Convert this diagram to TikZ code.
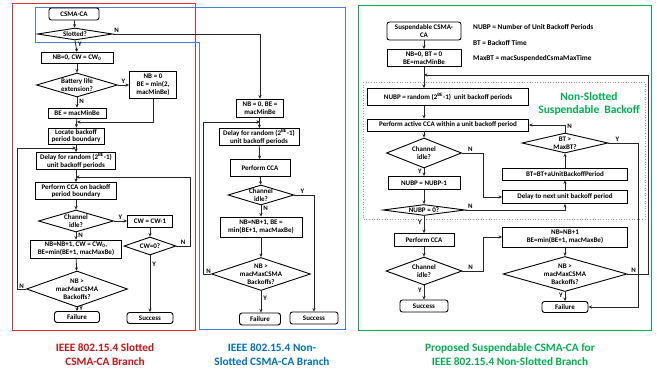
\documentclass[tikz,border=0pt]{standalone}
\usepackage{fontspec}
\setmainfont{Carlito}
\usetikzlibrary{shapes.geometric,arrows.meta}
\definecolor{redbr}{RGB}{222,48,48}
\definecolor{bluebr}{RGB}{80,125,205}
\definecolor{greenbr}{RGB}{0,176,80}
\definecolor{redtxt}{RGB}{200,20,20}
\definecolor{bluetxt}{RGB}{0,112,192}
\begin{document}
\begin{tikzpicture}[x=1pt,y=-1pt,
  every node/.style={font=\fontsize{7}{7.8}\selectfont\bfseries, inner sep=0pt},
  box/.style={draw, line width=0.9pt, align=center, fill=white},
  rbox/.style={box, rounded corners=2.5pt},
  dia/.style={draw, line width=0.9pt, diamond, inner sep=0pt, fill=white},
  conn/.style={line width=0.8pt, draw=black!85},
  arr/.style={conn, -{Stealth[length=3.5pt,width=3.2pt]}},
  yn/.style={font=\fontsize{6.8}{7}\selectfont\bfseries},
  captext/.style={font=\fontsize{11.3}{14}\selectfont\bfseries, align=center},
  leg/.style={anchor=west, font=\fontsize{7.3}{8}\selectfont\bfseries}]
\useasboundingbox (0,0) rectangle (657,372);
% outlines
\draw[redbr, line width=1pt] (12,3) rectangle (195,330);
\draw[bluebr, line width=1pt] (35,7) -- (345,7) -- (345,329) -- (199,329) -- (199,42) -- (35,42) -- cycle;
\draw[greenbr, line width=1pt] (358,5) rectangle (651,330);
\draw[black!40, dotted, line width=0.6pt] (363,82) rectangle (645,219);

% ---------- red branch ----------
\node[rbox, minimum width=50, minimum height=12] (csma) at (74,14) {CSMA-CA};
\node[dia, minimum width=75, minimum height=12, label={center:Slotted?}] (slotted) at (75,34) {};
\node[box, minimum width=72, minimum height=11] (nb0) at (77,58) {NB=0, CW = CW\textsubscript{0}};
\node[dia, minimum width=81, minimum height=24, label={[align=center]center:Battery life\\extension?}] (batt) at (77,85) {};
\node[box, minimum width=47, minimum height=27] (nbbe) at (153,85) {NB = 0\\BE = min(2,\\macMinBe)};
\node[box, minimum width=58, minimum height=10] (bemin) at (77,113) {BE = macMinBe};
\node[box, minimum width=56, minimum height=16] (locate) at (76,136) {Locate backoff\\period boundary};
\node[box, minimum width=79, minimum height=17] (delay1) at (76,161) {Delay for random (2\textsuperscript{BE}-1)\\unit backoff periods};
\node[box, minimum width=81, minimum height=17] (cca1) at (76,191) {Perform CCA on backoff\\period boundary};
\node[dia, minimum width=75, minimum height=22, label={[align=center]center:Channel\\idle?}] (idle1) at (76,221) {};
\node[box, minimum width=45, minimum height=12] (cw1) at (150,221) {CW = CW-1};
\node[box, minimum width=91, minimum height=18] (nbnb1) at (76,249) {NB=NB+1, CW = CW\textsubscript{0},\\BE=min(BE+1, macMaxBe)};
\node[dia, minimum width=52, minimum height=18, label={center:CW=0?}] (cw0) at (150,246) {};
\node[dia, minimum width=101, minimum height=36, label={[align=center]center:NB >\\macMaxCSMA\\Backoffs?}] (nbmax1) at (77,289) {};
\node[rbox, minimum width=45, minimum height=11] (fail1) at (77,317) {Failure};
\node[rbox, minimum width=46, minimum height=11] (succ1) at (150,318) {Success};

\coordinate (j1) at (77,122);
\coordinate (j2) at (76,148);
\coordinate (j3) at (76,177);
\draw[arr] (csma) -- (slotted);
\draw[arr] (slotted.south) -- node[yn, right=2pt, pos=0.35] {Y} (nb0.north);
\draw[arr] (nb0) -- (batt);
\draw[arr] (batt.east) -- node[yn, above=1.5pt] {Y} (nbbe.west);
\draw[arr] (batt.south) -- node[yn, right=2pt, pos=0.4] {N} (bemin.north);
\draw[arr] (nbbe.south) |- (j1);
\draw[arr] (bemin) -- (locate);
\draw[arr] (locate) -- (delay1);
\draw[arr] (nbmax1.west) -- node[yn, above, pos=0.5] {N} (17,289) |- (j2);
\draw[arr] (delay1) -- (cca1);
\draw[arr] (cca1) -- (idle1);
\draw[arr] (idle1.east) -- node[yn, above=1.5pt] {Y} (cw1.west);
\draw[arr] (idle1.south) -- node[yn, right=2pt, pos=0.4] {N} (nbnb1.north);
\draw[arr] (cw1) -- (cw0);
\draw[arr] (cw0.east) -- node[yn, above=1pt] {N} (190,246) |- (j3);
\draw[arr] (cw0.south) -- node[yn, right=2pt, pos=0.15] {Y} (succ1.north);
\draw[arr] (nbnb1) -- (nbmax1);
\draw[arr] (nbmax1.south) -- node[yn, right=2pt, pos=0.35] {Y} (fail1.north);

% ---------- blue branch ----------
\node[box, minimum width=47, minimum height=18] (nbbe2) at (260,108) {NB = 0, BE =\\macMinBe};
\node[box, minimum width=80, minimum height=17] (delay2) at (259,137) {Delay for random (2\textsuperscript{BE}-1)\\unit backoff periods};
\node[box, minimum width=60, minimum height=17] (cca2) at (260,168) {Perform CCA};
\node[dia, minimum width=66, minimum height=20, label={[align=center]center:Channel\\idle?}] (idle2) at (261,195) {};
\node[box, minimum width=82, minimum height=20] (nbnb2) at (261,227) {NB=NB+1, BE =\\min(BE+1, macMaxBe)};
\node[dia, minimum width=99, minimum height=33, label={[align=center]center:NB >\\macMaxCSMA\\Backoffs?}] (nbmax2) at (261,274) {};
\node[rbox, minimum width=41, minimum height=12] (fail2) at (260,319) {Failure};
\node[rbox, minimum width=48, minimum height=12] (succ2) at (314,318) {Success};

\coordinate (j4) at (260,122);
\draw[arr] (slotted.east) -- node[yn, anchor=south west, pos=0, xshift=1pt, yshift=1pt] {N} (260,34) -- (nbbe2.north);
\draw[arr] (nbbe2) -- (delay2);
\draw[arr] (delay2) -- (cca2);
\draw[arr] (cca2) -- (idle2);
\draw[arr] (idle2.south) -- node[yn, right=2pt, pos=0.3] {N} (nbnb2.north);
\draw[arr] (idle2.east) -- node[yn, above=1pt, pos=0.4] {Y} (314,195) -- (succ2.north);
\draw[arr] (nbnb2) -- (nbmax2);
\draw[arr] (nbmax2.south) -- node[yn, right=2pt, pos=0.35] {Y} (fail2.north -| nbmax2);
\draw[arr] (nbmax2.west) -- node[yn, above, pos=0.3] {N} (203,274) |- (j4);

% ---------- green branch ----------
\node[rbox, minimum width=74, minimum height=18] (susp) at (424,31) {Suspendable CSMA-\\CA};
\node[box, minimum width=74, minimum height=17] (nbbt) at (424,58) {NB=0, BT = 0\\BE=macMinBe};
\node[leg] (l1) at (473,27) {NUBP = Number of Unit Backoff Periods};
\node[leg] (l2) at (473,43) {BT = Backoff Time};
\node[leg] (l3) at (473,59) {MaxBT = macSuspendedCsmaMaxTime};
\node[box, minimum width=161, minimum height=17] (nubp) at (448,97) {NUBP = random (2\textsuperscript{BE}-1)\ \ unit backoff periods};
\node[font=\fontsize{11.5}{13}\selectfont\bfseries, text=greenbr, align=center] (nsb) at (589,103.5) {Non-Slotted\\Suspendable\ \ Backoff};
\node[box, minimum width=161, minimum height=12] (active) at (448,125) {Perform active CCA within a unit backoff period};
\node[dia, minimum width=75, minimum height=30, label={[align=center]center:Channel\\idle?}] (idle3) at (424,153) {};
\node[box, minimum width=72, minimum height=13] (nubp1) at (424,183) {NUBP = NUBP-1};
\node[dia, minimum width=82, minimum height=11, label={center:NUBP = 0?}] (nubp0) at (424,210) {};
\node[dia, minimum width=86, minimum height=20, label={[align=center]center:BT >\\MaxBT?}] (btmax) at (565,143) {};
\node[box, minimum width=125, minimum height=12] (btbt) at (565,174) {BT=BT+aUnitBackoffPeriod};
\node[box, minimum width=125, minimum height=13] (delay3) at (565,197) {Delay to next unit backoff period};
\node[box, minimum width=60, minimum height=13] (cca3) at (424,240) {Perform CCA};
\node[dia, minimum width=76, minimum height=28, label={[align=center]center:Channel\\idle?}] (idle4) at (424,271) {};
\node[rbox, minimum width=48, minimum height=12] (succ3) at (424,306) {Success};
\node[box, minimum width=125, minimum height=20] (nbnb3) at (565,237) {NB=NB+1\\BE=min(BE+1, macMaxBe)};
\node[dia, minimum width=124, minimum height=35, label={[align=center]center:NB >\\macMaxCSMA\\Backoffs?}] (nbmax3) at (565,274) {};
\node[rbox, minimum width=46, minimum height=11] (fail3) at (565,307) {Failure};

\coordinate (j5) at (424,75);
\draw[arr] (susp) -- (nbbt);
\draw[arr] (nbbt.south) -- (nbbt |- nubp.north);
\draw[arr] (nubp.south -| nbbt) -- (active.north -| nbbt);
\draw[arr] (active.south -| nbbt) -- (idle3.north);
\draw[arr] (idle3.south) -- node[yn, left=2pt, pos=0.4] {Y} (nubp1.north);
\draw[arr] (idle3.east) -- node[yn, above=1pt, pos=0.4] {N} (483,153) |- (delay3.west);
\draw[arr] (nubp1) -- (nubp0);
\draw[arr] (nubp0.east) -- node[yn, above=1pt, pos=0.05] {N} (565,210) -- (delay3.south);
\draw[arr] (nubp0.south) -- node[yn, left=2pt, pos=0.4] {Y} (cca3.north);
\draw[arr] (delay3) -- (btbt);
\draw[arr] (btbt) -- (btmax);
\draw[arr] (btmax.north) -- node[yn, right=2pt, pos=0.8] {N} (565,125) -- (active.east);
\draw[arr] (btmax.east) -- node[yn, above=1pt, pos=0.3] {Y} (638,143) |- (fail3.east);
\draw[arr] (cca3) -- (idle4);
\draw[arr] (idle4.south) -- node[yn, left=2pt, pos=0.35] {Y} (succ3.north);
\draw[arr] (idle4.east) -- node[yn, above=1pt, pos=0.4] {N} (483,271) |- (nbnb3.west);
\draw[arr] (nbnb3) -- (nbmax3);
\draw[arr] (nbmax3.south) -- node[yn, left=2pt, pos=0.35] {Y} (fail3.north);
\draw[arr] (nbmax3.east) -- node[yn, above=1pt, pos=0.3] {N} (648,274) |- (j5);

% captions
\node[captext, text=redtxt] (c1) at (105,355) {IEEE 802.15.4 Slotted\\CSMA-CA Branch};
\node[captext, text=bluetxt] (c2) at (272,355) {IEEE 802.15.4 Non-\\Slotted CSMA-CA Branch};
\node[captext, text=greenbr] (c3) at (510,355) {Proposed Suspendable CSMA-CA for\\IEEE 802.15.4 Non-Slotted Branch};
\end{tikzpicture}
\end{document}
